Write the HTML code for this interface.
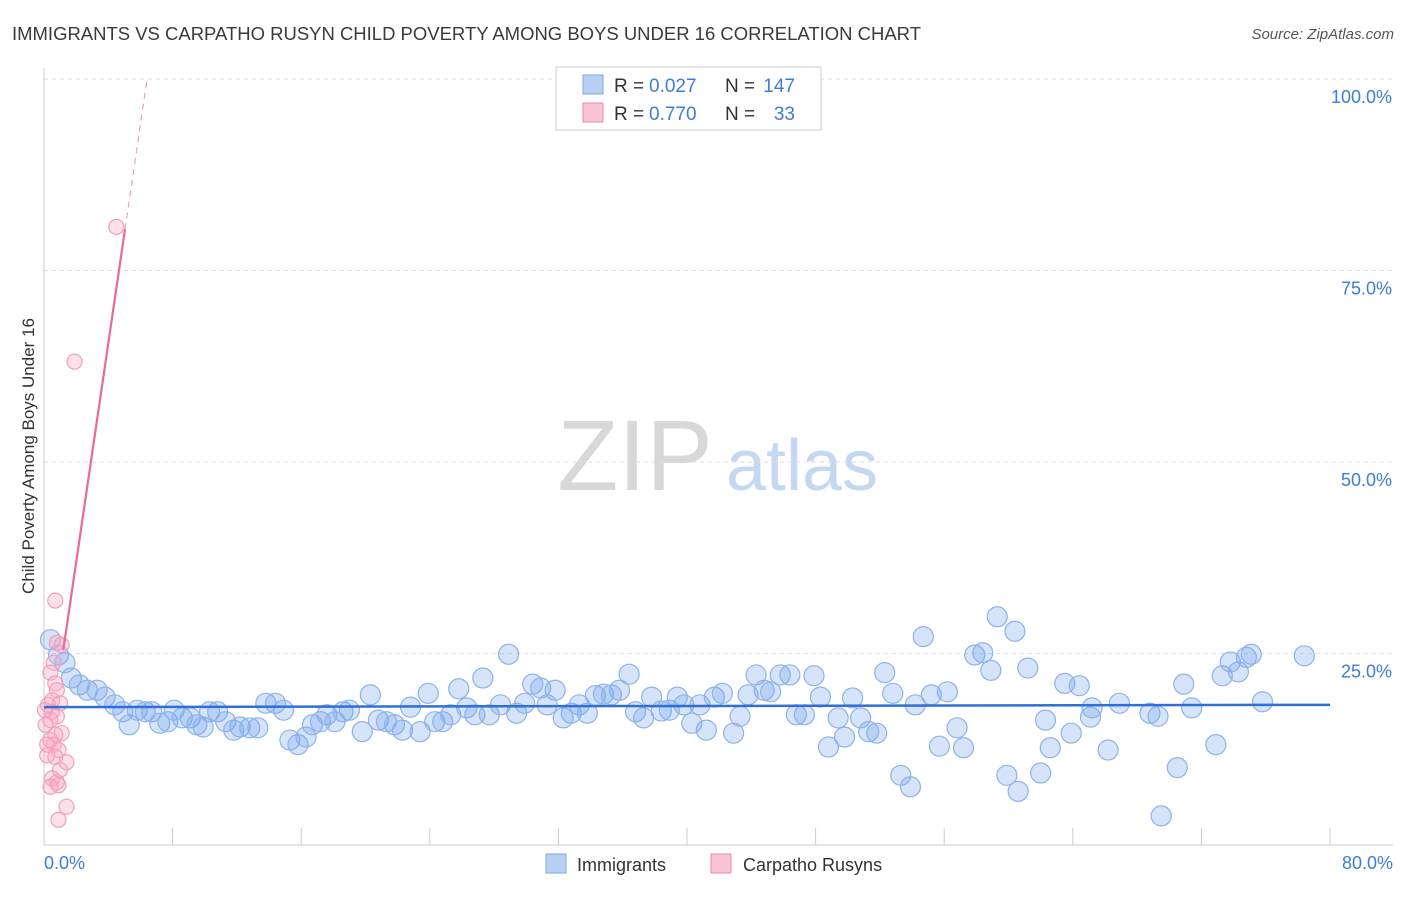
<!DOCTYPE html>
<html><head><meta charset="utf-8"><style>
body{margin:0;background:#fff;font-family:"Liberation Sans",sans-serif;}
svg text{font-family:"Liberation Sans",sans-serif;}
</style></head><body>
<svg id="chart" width="1406" height="892" xmlns="http://www.w3.org/2000/svg">
<text x="12" y="40" font-size="18" fill="#3a3a3a" textLength="909" lengthAdjust="spacingAndGlyphs">IMMIGRANTS VS CARPATHO RUSYN CHILD POVERTY AMONG BOYS UNDER 16 CORRELATION CHART</text>
<text x="1394" y="39" font-size="15" fill="#555" text-anchor="end" font-style="italic">Source: ZipAtlas.com</text>
<g>
<text x="635" y="490" font-size="100" fill="#d8d8d8" text-anchor="middle" font-family="Liberation Serif, serif">ZIP</text>
<text x="802" y="490" font-size="72" fill="#c5d8f2" text-anchor="middle">atlas</text>
</g>
<g id="grid"></g>
<g id="axes"></g>
<g id="blue"></g>
<g id="pink"></g>
<g id="lines"></g>
<text transform="translate(34,456) rotate(-90)" font-size="17" fill="#333" text-anchor="middle">Child Poverty Among Boys Under 16</text>
<g>
<rect x="556" y="67" width="265" height="63" fill="#fff" stroke="#ccc"/>
<rect x="583" y="75" width="20" height="19" fill="#b9d0f5" stroke="#7fa7e3"/>
<text x="614" y="92" font-size="19" fill="#333">R =</text>
<text x="649" y="92" font-size="19" fill="#3d7dd8">0.027</text>
<text x="725" y="92" font-size="19" fill="#333">N =</text>
<text x="795" y="92" font-size="19" fill="#3d7dd8" text-anchor="end">147</text>
<rect x="583" y="103" width="20" height="19" fill="#f9c3d3" stroke="#eb8aa8"/>
<text x="614" y="120" font-size="19" fill="#333">R =</text>
<text x="649" y="120" font-size="19" fill="#3d7dd8">0.770</text>
<text x="725" y="120" font-size="19" fill="#333">N =</text>
<text x="795" y="120" font-size="19" fill="#3d7dd8" text-anchor="end">33</text>
</g>
<g>
<rect x="546" y="854" width="20" height="19" fill="#b9d0f5" stroke="#7fa7e3"/>
<text x="577" y="871" font-size="18" fill="#333">Immigrants</text>
<rect x="711" y="854" width="20" height="19" fill="#f9c3d3" stroke="#eb8aa8"/>
<text x="743" y="871" font-size="18" fill="#333">Carpatho Rusyns</text>
</g>
</svg>
<script>
const blueX=[0.4,0.9,1.3,1.7,2.2,2.7,3.3,3.8,4.4,4.9,5.3,5.8,6.3,6.7,7.2,7.7,8.1,8.6,9.1,9.5,9.9,10.3,10.8,11.3,11.8,12.2,12.8,13.3,13.8,14.4,14.9,15.3,15.8,16.3,16.7,17.2,17.6,18.1,18.6,19.0,19.8,20.3,20.8,21.3,21.8,22.3,22.8,23.4,23.9,24.3,24.8,25.3,25.8,26.3,26.8,27.3,27.7,28.4,28.9,29.4,29.9,30.4,30.9,31.3,31.8,32.3,32.8,33.3,33.8,34.3,34.8,35.3,35.8,36.4,36.8,37.3,37.8,38.4,38.9,39.4,39.8,40.3,40.8,41.2,41.7,42.2,42.9,43.3,43.8,44.3,44.8,45.2,45.8,46.4,46.8,47.3,47.9,48.3,48.8,49.4,49.8,50.3,50.8,51.3,51.8,52.3,52.8,53.3,53.9,54.2,54.7,55.2,55.7,56.2,56.8,57.2,57.9,58.4,58.9,59.3,59.9,60.4,60.6,61.2,62.0,62.3,62.6,63.5,63.9,64.4,65.1,65.2,66.2,66.9,68.8,69.3,69.5,70.5,70.9,71.4,72.9,73.3,73.8,74.3,74.8,75.1,75.8,78.4];
const blueY=[26.8,24.8,23.8,21.8,20.9,20.2,20.2,19.3,18.3,17.4,15.7,17.6,17.4,17.4,15.9,16.1,17.6,16.6,16.6,15.7,15.4,17.4,17.4,16.1,15.0,15.4,15.3,15.3,18.5,18.5,17.6,13.7,13.1,14.1,15.7,16.1,17.0,16.1,17.4,17.6,14.8,19.6,16.3,16.1,15.7,15.0,18.0,14.8,19.8,16.1,16.1,17.0,20.4,17.9,17.0,21.8,17.0,18.3,24.9,17.2,18.5,21.0,20.5,18.3,20.2,16.6,17.2,18.3,17.2,19.5,19.7,19.6,20.2,22.3,17.4,16.6,19.3,17.5,17.6,19.3,18.3,15.9,18.3,15.0,19.3,19.8,14.6,16.8,19.6,22.2,20.2,20.0,22.2,22.2,17.0,17.0,22.1,19.3,12.8,16.6,14.1,19.2,16.6,14.8,14.6,22.5,19.8,9.1,7.6,18.3,27.2,19.6,12.9,20.0,15.3,12.7,24.8,25.1,22.8,29.8,9.1,27.9,7.0,23.1,9.4,16.3,12.7,21.1,14.6,20.8,16.7,17.9,12.4,18.5,17.2,16.8,3.8,10.1,21.0,17.9,13.1,22.1,23.9,22.6,24.5,24.9,18.7,24.7];
const pinkX=[4.5,1.9,0.7,1.1,0.8,0.6,0.4,0.7,0.8,0.5,0.25,1.0,0.5,0.8,0.4,0.1,1.1,0.7,0.4,0.6,0.9,0.2,0.7,1.4,1.0,0.5,0.8,0.4,0.9,1.4,0.9,0.2,0.06];
const pinkY=[80.7,63.1,31.9,26.1,26.4,23.8,22.5,21.1,20.2,18.9,18.3,18.5,17.4,16.8,16.3,15.7,14.6,14.4,13.7,13.1,12.4,11.7,11.5,10.8,9.8,8.7,8.2,7.6,7.8,5.0,3.3,13.1,17.6];
const yTicks=[25,50,75,100];
const yTickLabels=["25.0%","50.0%","75.0%","100.0%"];
const blueTrend=[18.0,18.3];
const pinkSlope=14.3, pinkIntercept=8.3, pinkSolidRange=[1.2,5.04];

const X0=44,X1=1330,Y0=845,Y100=79;
const sx=v=>X0+(v/80)*(X1-X0);
const sy=v=>Y0-(v/100)*(Y0-Y100);
const NS="http://www.w3.org/2000/svg";
function mk(tag,attrs,parent){const e=document.createElementNS(NS,tag);for(const k in attrs)e.setAttribute(k,attrs[k]);parent.appendChild(e);return e;}
const grid=document.getElementById('grid'),axes=document.getElementById('axes');
yTicks.forEach((t,i)=>{
  const l=mk('line',{x1:X0,x2:1393,y1:sy(t),y2:sy(t),stroke:'#ddd','stroke-dasharray':'4,4'},grid);
  
  
  const tx=mk('text',{x:1392,y:sy(t)+24,'font-size':18,fill:'#3d7dd8','text-anchor':'end'},axes);
  tx.textContent=yTickLabels[i];
  
  
});
let a=mk('line',{x1:X0,x2:X0,y1:68,y2:Y0,stroke:'#ccc'},axes);


a=mk('line',{x1:X0,x2:1393,y1:Y0,y2:Y0,stroke:'#ccc'},axes);


for(let i=1;i<=10;i++){
  const t=mk('line',{x1:sx(i*8),x2:sx(i*8),y1:828,y2:Y0,stroke:'#ccc'},axes);
  
  
}
let xl=mk('text',{x:44,y:869,'font-size':18,fill:'#3d7dd8'},axes);xl.textContent='0.0%';


xl=mk('text',{x:1393,y:869,'font-size':18,fill:'#3d7dd8','text-anchor':'end'},axes);xl.textContent='80.0%';


const bg=document.getElementById('blue');
blueX.forEach((x,i)=>{
  const c=mk('circle',{cx:sx(x),cy:sy(blueY[i]),r:10,fill:'rgba(120,165,235,0.3)',stroke:'#8db2ea','stroke-width':1.2},bg);
  
  
});
const pg=document.getElementById('pink');
pinkX.forEach((x,i)=>{
  const c=mk('circle',{cx:sx(x),cy:sy(pinkY[i]),r:7.5,fill:'rgba(248,170,195,0.35)',stroke:'#f0a0ba','stroke-width':1.2},pg);
  
  
});
const lg=document.getElementById('lines');
let bl=mk('line',{x1:sx(0),x2:sx(80),y1:sy(blueTrend[0]),y2:sy(blueTrend[1]),stroke:'#2f6fd6','stroke-width':2.5},lg);


const py=x=>pinkIntercept+pinkSlope*x;
let pl=mk('line',{x1:sx(pinkSolidRange[0]),x2:sx(pinkSolidRange[1]),y1:sy(py(pinkSolidRange[0])),y2:sy(py(pinkSolidRange[1])),stroke:'#e8699a','stroke-width':2.2},lg);


const xEnd=(100-pinkIntercept)/pinkSlope;
let pd=mk('line',{x1:sx(pinkSolidRange[1]),x2:sx(xEnd),y1:sy(py(pinkSolidRange[1])),y2:sy(100),stroke:'#eea0bb','stroke-width':1.2,'stroke-dasharray':'6,5'},lg);


</script>
</body></html>
